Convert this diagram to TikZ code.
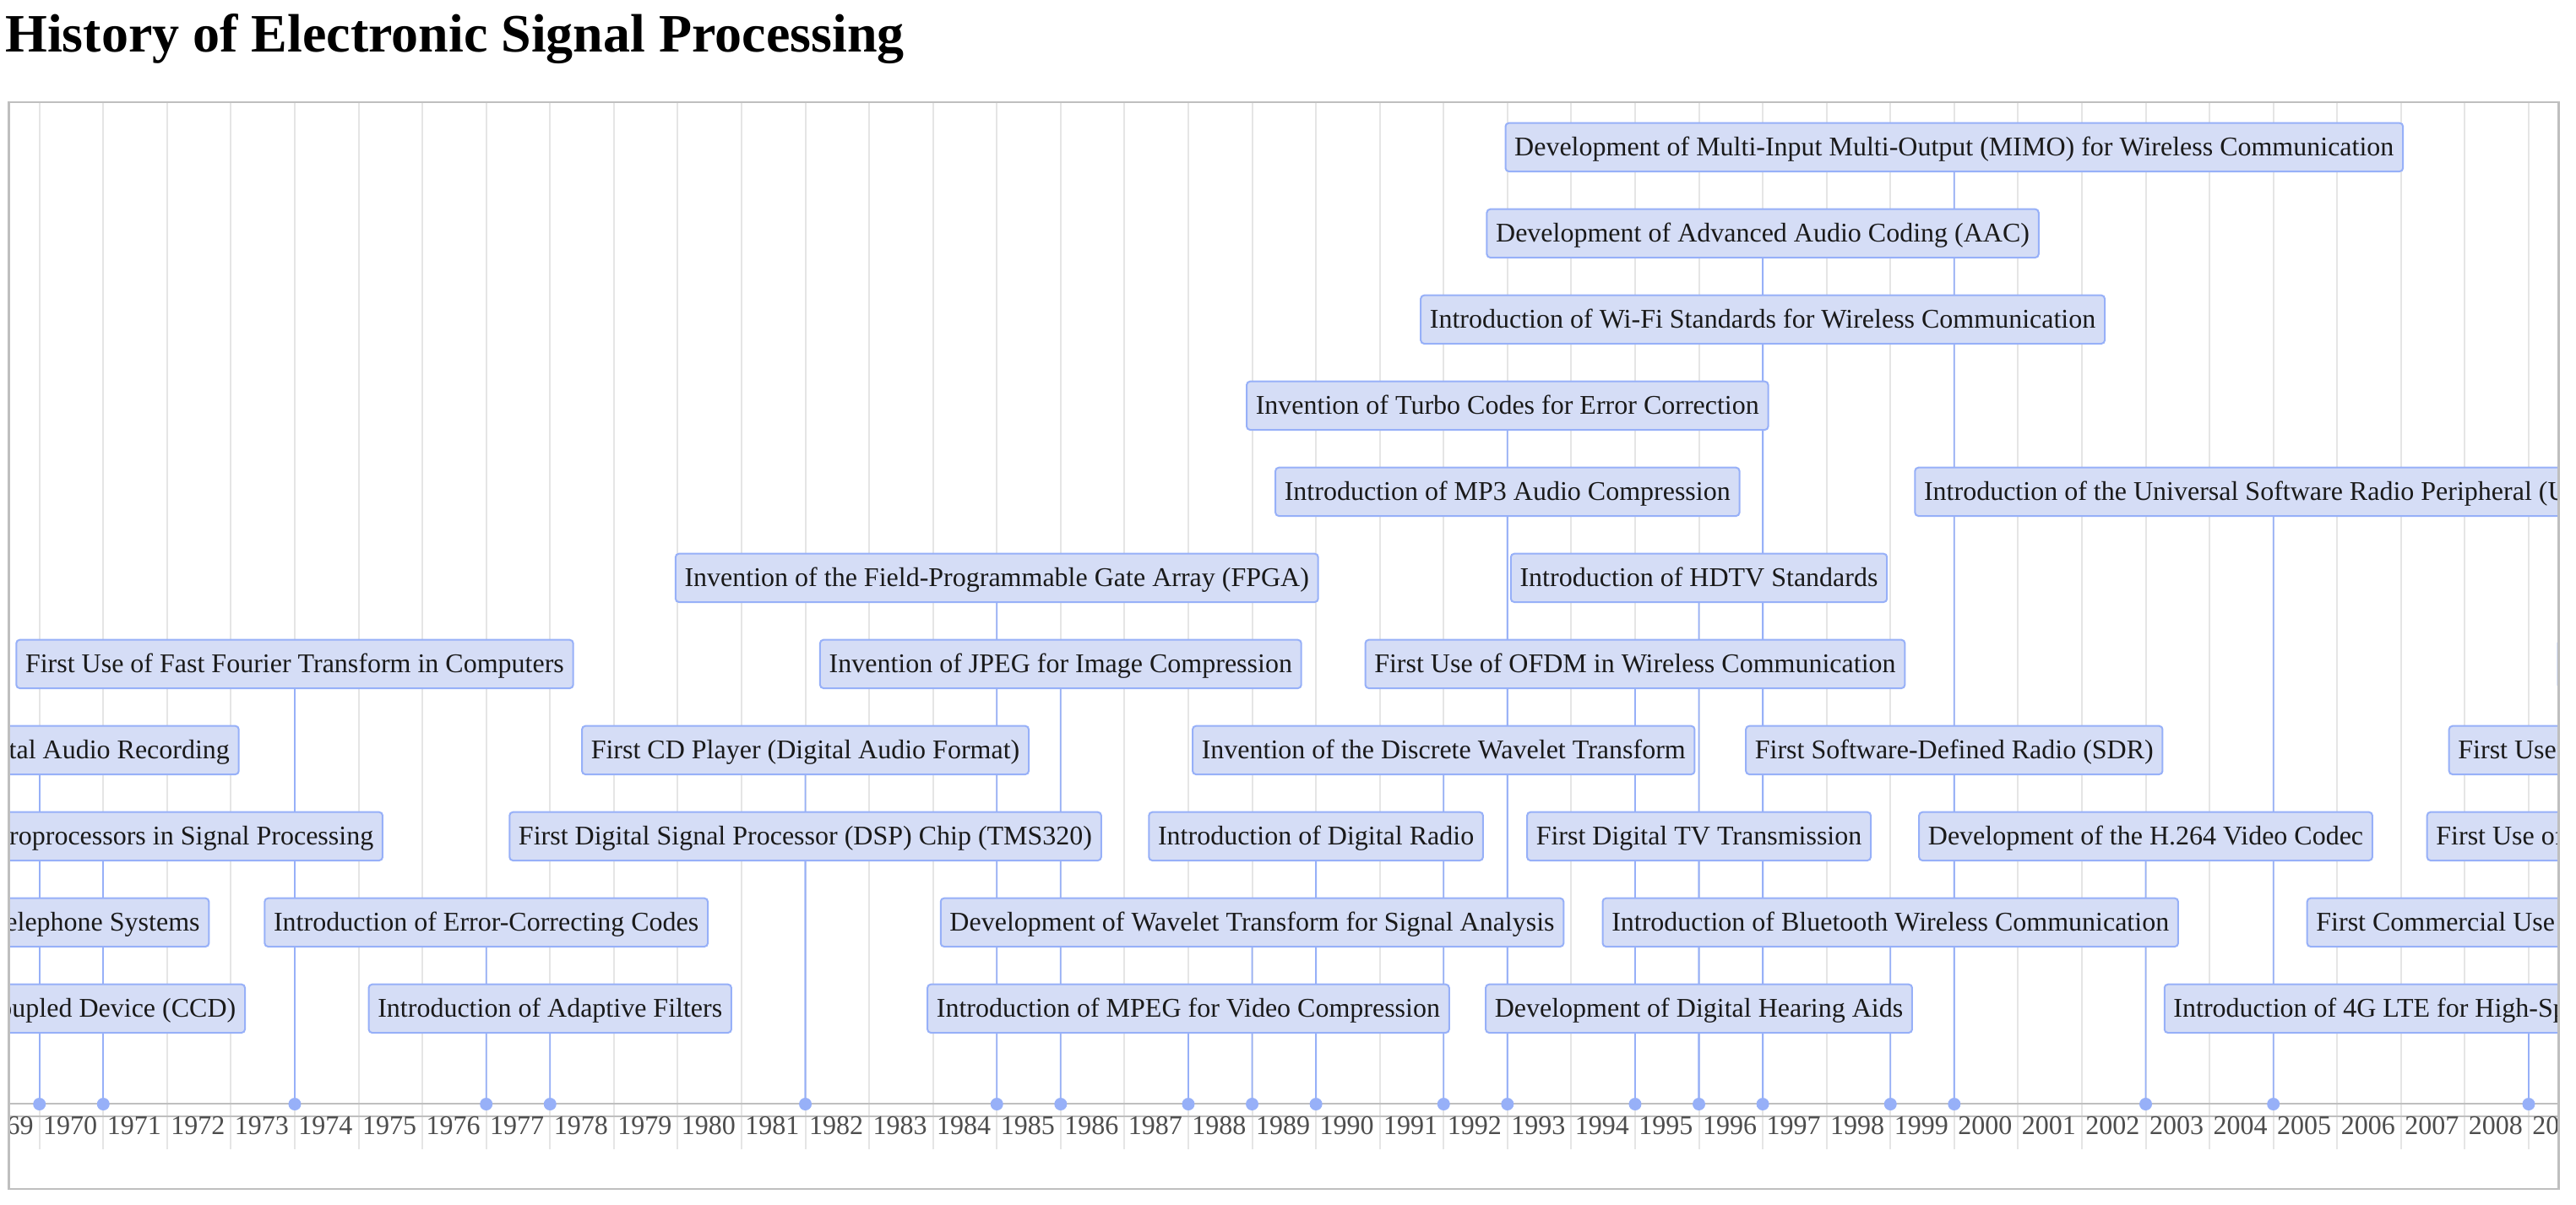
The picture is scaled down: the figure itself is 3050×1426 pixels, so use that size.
\documentclass[tikz,border=0pt]{standalone}
\usepackage{fontspec}
\setmainfont{Liberation Serif}
\definecolor{itemfill}{HTML}{D5DDF6}
\definecolor{itemline}{HTML}{97B0F8}
\definecolor{gridc}{HTML}{E5E5E5}
\definecolor{framec}{HTML}{BFBFBF}
\definecolor{axistext}{HTML}{4D4D4D}
\definecolor{itemtext}{HTML}{1A1A1A}
\pgfdeclarelayer{bg}
\pgfdeclarelayer{lines}
\pgfsetlayers{bg,lines,main}
\begin{document}
\begin{tikzpicture}[x=0.5pt,y=-0.5pt,
  evt/.style={draw=itemline, fill=itemfill, line width=1pt, rounded corners=2pt,
    inner xsep=5.35pt, inner ysep=8.3pt, text height=11.1pt, text depth=0.95pt,
    font=\fontsize{16pt}{19pt}\selectfont, text=itemtext},
  conn/.style={draw=itemline, line width=0.9pt},
  dotn/.style={circle, fill=itemline, inner sep=0pt, minimum size=7.5pt},
  gridl/.style={draw=gridc, line width=1pt},
  axisl/.style={draw=framec, line width=1pt},
  yl/.style={anchor=base west, inner sep=0pt, font=\fontsize{16pt}{19pt}\selectfont, text=axistext},
  ttl/.style={anchor=base west, inner sep=0pt, font=\fontsize{32pt}{38pt}\selectfont\bfseries, text=black}
]
\useasboundingbox (0,0) rectangle (3050,1426);
\begin{pgfonlayer}{bg}
  \fill[white] (0,0) rectangle (3050,1426);
  \begin{scope}
    \clip (11.2,122.4) rectangle (3028.4,1406.8);
    \foreach \i in {0,...,39}
      \draw[gridl] ({46.7+\i*75.57},121) -- ({46.7+\i*75.57},1361);
  \end{scope}
\end{pgfonlayer}

\node[ttl] (title) at (6,61.7) {History of Electronic Signal Processing};

\begin{scope}
  \clip (11.2,122.4) rectangle (3028.4,1406.8);
  % axis lines
  \draw[axisl] (11,1306.7) -- (3028,1306.7);
  \draw[axisl] (11,1322.3) -- (3028,1322.3);
  % year labels
  \node[yl] (y1969) at (7.2,1343.3) {69};
  \foreach \i in {0,...,38} {
    \pgfmathtruncatemacro\yy{1970+\i}
    \node[yl] (y\yy) at ({46.7+\i*75.57+4.1},1343.3) {\yy};
  }
  \node[yl] (y2009) at (2998.0,1343.3) {20};

  % row 1
  \node[evt] (mimo) at (2313.8,174.35) {Development of Multi-Input Multi-Output (MIMO) for Wireless Communication};
  % row 2
  \node[evt] (aac) at (2087.09,276.35) {Development of Advanced Audio Coding (AAC)};
  % row 3
  \node[evt] (wifi) at (2087.09,378.35) {Introduction of Wi-Fi Standards for Wireless Communication};
  % row 4
  \node[evt] (turbo) at (1784.81,480.35) {Invention of Turbo Codes for Error Correction};
  % row 5
  \node[evt] (mp3) at (1784.81,582.35) {Introduction of MP3 Audio Compression};
  \node[evt, text width=413.6pt, align=flush left] (usrp) at (2691.65,582.35) {Introduction of the Universal Software Radio Peripheral (U};
  % row 6
  \node[evt] (fpga) at (1180.25,684.35) {Invention of the Field-Programmable Gate Array (FPGA)};
  \node[evt] (hdtv) at (2011.52,684.35) {Introduction of HDTV Standards};
  % row 7
  \node[evt] (fft) at (348.98,786.35) {First Use of Fast Fourier Transform in Computers};
  \node[evt] (jpeg) at (1255.82,786.35) {Invention of JPEG for Image Compression};
  \node[evt] (ofdm) at (1935.95,786.35) {First Use of OFDM in Wireless Communication};
  \node[evt, anchor=west, text width=100pt] (edge7) at (3027.5,786.35) {};
  % row 8
  \node[evt, text width=225.3pt, align=flush right] (audio) at (46.7,888.35) {tal Audio Recording};
  \node[evt] (cd) at (953.54,888.35) {First CD Player (Digital Audio Format)};
  \node[evt] (dwt) at (1709.24,888.35) {Invention of the Discrete Wavelet Transform};
  \node[evt] (sdr) at (2313.8,888.35) {First Software-Defined Radio (SDR)};
  \node[evt, anchor=west, text width=200pt, align=flush left] (fuse) at (2898.7,888.35) {First Use};
  % row 9
  \node[evt, text width=320pt, align=flush right] (micro) at (122.27,990.35) {roprocessors in Signal Processing};
  \node[evt] (dsp) at (953.54,990.35) {First Digital Signal Processor (DSP) Chip (TMS320)};
  \node[evt] (radio) at (1558.1,990.35) {Introduction of Digital Radio};
  \node[evt] (dtv) at (2011.52,990.35) {First Digital TV Transmission};
  \node[evt] (h264) at (2540.51,990.35) {Development of the H.264 Video Codec};
  \node[evt, anchor=west, text width=200pt, align=flush left] (fuseo) at (2872.7,990.35) {First Use of};
  % row 10
  \node[evt, anchor=east, text width=300pt, align=flush right] (phone) at (248.3,1092.35) {elephone Systems};
  \node[evt] (ecc) at (575.69,1092.35) {Introduction of Error-Correcting Codes};
  \node[evt] (wavelet) at (1482.53,1092.35) {Development of Wavelet Transform for Signal Analysis};
  \node[evt] (bt) at (2238.23,1092.35) {Introduction of Bluetooth Wireless Communication};
  \node[evt, anchor=west, text width=300pt, align=flush left] (comm) at (2730.7,1092.35) {First Commercial Use};
  % row 11
  \node[evt, anchor=east, text width=300pt, align=flush right] (ccd) at (291,1194.35) {oupled Device (CCD)};
  \node[evt] (adapt) at (651.26,1194.35) {Introduction of Adaptive Filters};
  \node[evt] (mpeg) at (1406.96,1194.35) {Introduction of MPEG for Video Compression};
  \node[evt] (hear) at (2011.52,1194.35) {Development of Digital Hearing Aids};
  \node[evt, text width=420.5pt, align=flush left] (lte) at (2993.93,1194.35) {Introduction of 4G LTE for High-Sp};

  % dots on the axis
  \foreach \yy in {1970,1971,1974,1977,1978,1982,1985,1986,1988,1989,1990,1992,1993,1995,1996,1997,1999,2000,2003,2005,2009}
    \node[dotn] (d\yy) at ({46.7+(\yy-1970)*75.57},1307.5) {};
\end{scope}

\begin{pgfonlayer}{lines}
  \begin{scope}
    \clip (11.2,122.4) rectangle (3028.4,1406.8);
    \foreach \a/\b in {mimo/2000, aac/1997, wifi/1997, turbo/1993, mp3/1993, usrp/2005,
      fpga/1985, hdtv/1996, fft/1974, jpeg/1986, ofdm/1995, audio/1970, cd/1982,
      dwt/1992, sdr/2000, micro/1971, dsp/1982, radio/1990, dtv/1996, h264/2003,
      ecc/1977, wavelet/1989, bt/1999, adapt/1978, mpeg/1988, hear/1996, lte/2009}
      \draw[conn] (\a.south) -- (d\b.center);
  \end{scope}
\end{pgfonlayer}

% outer frame
\draw[framec, line width=1.25pt] (10.5,121.2) rectangle (3029.45,1408);
\end{tikzpicture}
\end{document}
